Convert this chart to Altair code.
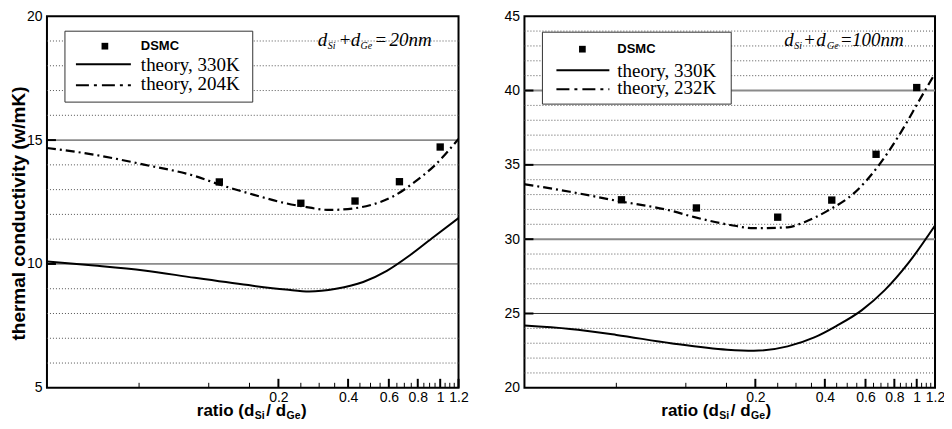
import altair as alt
import pandas as pd

# ---------------- data ----------------
major_ticks = [0.2, 0.4, 0.6, 0.8, 1.0, 1.2]
minor_ticks = [0.05, 0.1, 0.15, 0.25, 0.3, 0.35, 0.45, 0.5, 0.55, 0.65, 0.7,
               0.75, 0.85, 0.9, 0.95, 1.05, 1.1, 1.15]

# left panel: d_Si + d_Ge = 20 nm
left_y_labels = [5, 10, 15, 20]
left_y_major = [10, 15]
left_y_major_gray = []
left_y_minor = [6, 7, 8, 9, 11, 12, 13, 14, 16, 17, 18, 19]
dsmc_ratio_20 = [1 / 9, 0.25, 3 / 7, 2 / 3, 1.0]
dsmc_k_20 = [13.31, 12.45, 12.54, 13.32, 14.72]
th330_ratio_20 = [0.02, 0.032, 0.0525, 0.087, 0.155, 0.215, 0.272, 0.355, 0.465,
                  0.588, 0.74, 0.94, 1.2]
th330_k_20 = [10.1, 9.94, 9.74, 9.44, 9.12, 8.97, 8.89, 9.0, 9.27, 9.72, 10.35,
              11.1, 11.85]
th204_ratio_20 = [0.02, 0.032, 0.0525, 0.087, 0.111, 0.157, 0.215, 0.255, 0.333,
                  0.42, 0.497, 0.63, 0.769, 0.94, 1.2]
th204_k_20 = [14.68, 14.41, 14.01, 13.55, 13.21, 12.79, 12.45, 12.32, 12.18,
              12.24, 12.37, 12.74, 13.28, 13.95, 15.05]

# right panel: d_Si + d_Ge = 100 nm
right_y_labels = [20, 25, 30, 35, 40, 45]
right_y_major = [25, 35]
right_y_major_gray = [30, 40]
right_y_minor = [21, 22, 23, 24, 26, 27, 28, 29, 31, 32, 33, 34, 36, 37, 38, 39,
                 41, 42, 43, 44]
dsmc_ratio_100 = [5 / 95, 10 / 90, 0.25, 3 / 7, 2 / 3, 1.0]
dsmc_k_100 = [32.65, 32.1, 31.48, 32.63, 35.71, 40.2]
th330_ratio_100 = [0.02, 0.0315, 0.05, 0.086, 0.151, 0.197, 0.276, 0.36, 0.45,
                   0.577, 0.727, 0.923, 1.2]
th330_k_100 = [24.19, 23.96, 23.56, 23.0, 22.56, 22.49, 22.79, 23.39, 24.17,
               25.21, 26.57, 28.42, 30.92]
th232_ratio_100 = [0.02, 0.0315, 0.05, 0.086, 0.109, 0.154, 0.197, 0.276, 0.326,
                   0.412, 0.54, 0.682, 0.86, 1.02, 1.2]
th232_k_100 = [33.7, 33.19, 32.59, 31.92, 31.48, 30.97, 30.74, 30.8, 31.14,
               31.92, 33.15, 34.93, 37.27, 39.27, 41.15]

# ---------------- helpers ----------------
H = 372
SANS = "Liberation Sans"
SERIF = "Liberation Serif"
one = pd.DataFrame({"a": [0]})
DASHDOT = [9, 4, 2, 4]
# Arial-bold advance widths (em) for the x-title glyphs
BOLD_W = {"r": .389, "a": .556, "t": .333, "i": .278, "o": .611, " ": .278,
          "(": .333, "d": .611, "S": .667, "/": .278, "G": .778, "e": .556,
          ")": .333}


def tw(s, size):
    return sum(BOLD_W[c] for c in s) * size


def txt(x, y, s, size, font, weight="normal", style="normal", align="left",
        baseline="alphabetic"):
    return alt.Chart(one).mark_text(
        text=s, font=font, fontSize=size, fontWeight=weight, fontStyle=style,
        align=align, baseline=baseline, color="black"
    ).encode(x=alt.value(x), y=alt.value(y))


def panel(W, domain_y, y_labels, y_major, y_major_gray, y_minor, dsmc_x, dsmc_y,
          s_x, s_y, d_x, d_y, leg, low_label, ann, ann_total, xt0, ytitle):
    xs = alt.Scale(type="log", domain=[0.02, 1.2], nice=False)
    ys = alt.Scale(domain=domain_y, nice=False, zero=False)

    yaxis_kw = dict(values=y_labels, ticks=False, domain=False, grid=False,
                    labelPadding=5, labelFont=SANS, labelFontSize=14,
                    labelColor="black")
    if ytitle:
        yaxis = alt.Axis(title=ytitle, titleFont=SANS, titleFontSize=19,
                         titleFontWeight="bold", titleColor="black",
                         titleX=-28, titleY=197, titleAngle=270,
                         titleAlign="center", titleBaseline="middle", **yaxis_kw)
    else:
        yaxis = alt.Axis(title=None, **yaxis_kw)
    xaxis = alt.Axis(values=major_ticks, format="~g", ticks=False, domain=False,
                     grid=False, labelPadding=3, labelFont=SANS, labelFontSize=14,
                     labelColor="black", title=None, labelFlush=False)

    def X(f):
        return alt.X(f, scale=xs, axis=xaxis)

    def Y(f):
        return alt.Y(f, scale=ys, axis=yaxis)

    minor_grid = alt.Chart(pd.DataFrame({"v": y_minor})).mark_rule(
        color="#555", strokeWidth=1, strokeDash=[1, 2]
    ).encode(y=Y("v:Q"), x=alt.value(0), x2=alt.value(W))
    major_grid = alt.Chart(pd.DataFrame({"v": y_major})).mark_rule(
        color="#333", strokeWidth=1
    ).encode(y=Y("v:Q"), x=alt.value(0), x2=alt.value(W))
    major_gray = alt.Chart(pd.DataFrame({"v": y_major_gray})).mark_rule(
        color="#8a8a8a", strokeWidth=2
    ).encode(y=Y("v:Q"), x=alt.value(0), x2=alt.value(W))
    y_inward = alt.Chart(pd.DataFrame({"v": y_major + y_major_gray})).mark_rule(
        color="black", strokeWidth=2
    ).encode(y=Y("v:Q"), x=alt.value(0), x2=alt.value(9))

    x_major = alt.Chart(pd.DataFrame({"t": major_ticks})).mark_rule(
        color="black", strokeWidth=2
    ).encode(x=X("t:Q"), y=alt.value(H), y2=alt.value(H - 9))
    x_minor = alt.Chart(pd.DataFrame({"t": minor_ticks})).mark_rule(
        color="black", strokeWidth=1
    ).encode(x=X("t:Q"), y=alt.value(H), y2=alt.value(H - 5))

    solid = alt.Chart(pd.DataFrame({"r": s_x, "k": s_y})).mark_line(
        color="black", strokeWidth=2, interpolate="monotone", clip=True
    ).encode(x=X("r:Q"), y=Y("k:Q"))
    dashdot = alt.Chart(pd.DataFrame({"r": d_x, "k": d_y})).mark_line(
        color="black", strokeWidth=2.2, interpolate="monotone", clip=True,
        strokeDash=DASHDOT
    ).encode(x=X("r:Q"), y=Y("k:Q"))
    pts = alt.Chart(pd.DataFrame({"r": dsmc_x, "k": dsmc_y})).mark_square(
        color="black", size=54, opacity=1
    ).encode(x=X("r:Q"), y=Y("k:Q"))

    # legend box
    bx0, by0, bx1, by1, ysq, yl1, yl2, xsq, xl0, xl1, xtx = leg
    box = alt.Chart(one).mark_rect(fill="white", stroke="#333", strokeWidth=1).encode(
        x=alt.value(bx0), x2=alt.value(bx1), y=alt.value(by0), y2=alt.value(by1))
    leg_sq = alt.Chart(one).mark_square(color="black", size=45, opacity=1).encode(
        x=alt.value(xsq), y=alt.value(ysq))
    leg_l1 = alt.Chart(one).mark_rule(color="black", strokeWidth=2).encode(
        x=alt.value(xl0), x2=alt.value(xl1), y=alt.value(yl1))
    leg_l2 = alt.Chart(one).mark_rule(color="black", strokeWidth=2,
                                      strokeDash=[13, 5, 3, 5]).encode(
        x=alt.value(xl0), x2=alt.value(xl1), y=alt.value(yl2))
    leg_t0 = txt(xtx, ysq, "DSMC", 13, SANS, weight="bold", baseline="middle")
    leg_t1 = txt(xtx, yl1 + 1, "theory, 330K", 19, SERIF, baseline="middle")
    leg_t2 = txt(xtx, yl2 - 1, "theory, " + low_label, 19, SERIF, baseline="middle")

    # annotation d_Si + d_Ge = ...
    a = ann
    by = 30
    ann_layers = [
        txt(a[0], by, "d", 19, SERIF, style="italic"),
        txt(a[1], by + 3, "Si", 10, SERIF, style="italic"),
        txt(a[2], by, "+", 19, SERIF),
        txt(a[3], by, "d", 19, SERIF, style="italic"),
        txt(a[4], by + 3, "Ge", 10, SERIF, style="italic"),
        txt(a[5], by, "=", 19, SERIF),
        txt(a[6], by, ann_total, 19, SERIF, style="italic"),
    ]

    # x-axis title with subscripts, laid out piece after piece
    tb = H + 28
    big, small = 17, 10.5
    pieces = [("ratio (d", big, 0, 0.5), ("Si", small, 3.5, 1.5),
              ("/ d", big, 0, 0.5), ("Ge", small, 3.5, 0.5), (")", big, 0, 0)]
    xt_layers = []
    xp = xt0
    for s, sz, dy, gap in pieces:
        xt_layers.append(txt(xp, tb + dy, s, sz, SANS, weight="bold"))
        xp += tw(s, sz) + gap

    return alt.layer(
        minor_grid, major_grid, major_gray, y_inward, x_minor, x_major, solid,
        dashdot, pts, box, leg_sq, leg_l1, leg_l2, leg_t0, leg_t1, leg_t2,
        *ann_layers, *xt_layers
    ).properties(width=W, height=H)


left = panel(
    412, [5, 20], left_y_labels, left_y_major, left_y_major_gray, left_y_minor,
    dsmc_ratio_20, dsmc_k_20, th330_ratio_20, th330_k_20, th204_ratio_20, th204_k_20,
    (18, 15, 206, 86, 30, 48, 69, 58, 29, 84, 94), "204K",
    (271, 281, 293, 304, 314, 329, 343), "20nm",
    150,
    "thermal conductivity (w/mK)",
)
right = panel(
    411, [20, 45], right_y_labels, right_y_major, right_y_major_gray, right_y_minor,
    dsmc_ratio_100, dsmc_k_100, th330_ratio_100, th330_k_100, th232_ratio_100, th232_k_100,
    (18, 16, 207, 88, 33, 54, 73, 58, 32, 85, 93), "232K",
    (260, 270, 280, 292, 303, 317, 328), "100nm",
    137,
    None,
)

chart = alt.hconcat(left, right, spacing=33).properties(
    padding={"left": 0, "top": 0, "right": -2, "bottom": 0},
    background="white",
).configure_view(stroke="black", strokeWidth=2)

chart.save("out.html", embed_options={"renderer": "svg", "actions": False})
